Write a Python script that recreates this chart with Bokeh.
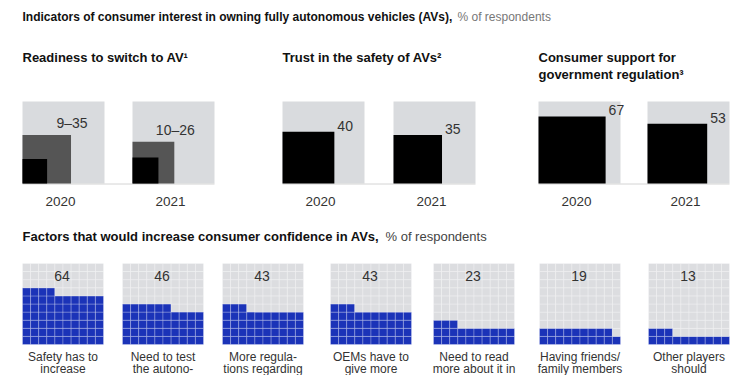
import math
from bokeh.plotting import figure
from bokeh.core.properties import value
from bokeh.embed import file_html
from bokeh.resources import INLINE

# ---------------- data ----------------
years = ["2020", "2021"]
readiness_low = [9, 10]
readiness_high = [35, 26]
trust_values = [40, 35]
regulation_values = [67, 53]

factor_labels = [
    ["Safety has to", "increase"],
    ["Need to test", "the autono-"],
    ["More regula-", "tions regarding"],
    ["OEMs have to", "give more"],
    ["Need to read", "more about it in"],
    ["Having friends/", "family members"],
    ["Other players", "should"],
]
factor_values = [64, 46, 43, 43, 23, 19, 13]

# ---------------- styles / layout ----------------
SANS = "Liberation Sans"
LIGHT = "#d9dbde"
DARK = "#555555"
BLACK = "#000000"
BLUE = "#1b33b8"
TXT = "#333333"

W, H = 750, 375
p = figure(width=W, height=H, x_range=(0, W), y_range=(H, 0),
           output_backend="svg", toolbar_location=None,
           min_border=0, min_border_left=0, min_border_right=0,
           min_border_top=0, min_border_bottom=0)
p.axis.visible = False
p.grid.visible = False
p.outline_line_color = None
p.background_fill_color = "white"

# titles
p.text(x=[22], y=[16], text=["Indicators of consumer interest in owning fully autonomous vehicles (AVs),"],
       text_font=value(SANS), text_font_size="12px", text_font_style="bold",
       text_color="#111111", text_baseline="middle")
p.text(x=[457], y=[16], text=["% of respondents"],
       text_font=value(SANS), text_font_size="12px", text_color="#777777",
       text_baseline="middle")

subtitles = [
    (22, ["Readiness to switch to AV\u00b9"]),
    (282, ["Trust in the safety of AVs\u00b2"]),
    (538, ["Consumer support for", "government regulation\u00b3"]),
]
for sx, lines in subtitles:
    for k, line in enumerate(lines):
        p.text(x=[sx], y=[57 + 17 * k], text=[line],
               text_font=value(SANS), text_font_size="13px", text_font_style="bold",
               text_color="#111111", text_baseline="middle")

# top square charts
SIDE = 82
BOTTOM = 183
group_lefts = [[22, 132], [282, 393], [538, 647]]


def side(v):
    return SIDE * math.sqrt(v / 100.0)


def label_year(lefts):
    p.text(x=[l + SIDE / 2 - 3 for l in lefts], y=[201] * 2, text=years,
           text_font=value(SANS), text_font_size="13.5px", text_color=TXT,
           text_align="center", text_baseline="middle")


for gi, lefts in enumerate(group_lefts):
    p.quad(left=lefts, right=[l + SIDE for l in lefts], top=[BOTTOM - SIDE] * 2,
           bottom=[BOTTOM] * 2, fill_color=LIGHT, line_color=None)
    p.segment(x0=[lefts[0]], y0=[BOTTOM + 0.5], x1=[lefts[1] + SIDE], y1=[BOTTOM + 0.5],
              line_color="#d4d4d4", line_width=1)
    label_year(lefts)

# readiness
lefts = group_lefts[0]
hs = [side(v) for v in readiness_high]
ls = [side(v) for v in readiness_low]
p.quad(left=lefts, right=[l + s for l, s in zip(lefts, hs)], top=[BOTTOM - s for s in hs],
       bottom=[BOTTOM] * 2, fill_color=DARK, line_color=None)
p.quad(left=lefts, right=[l + s for l, s in zip(lefts, ls)], top=[BOTTOM - s for s in ls],
       bottom=[BOTTOM] * 2, fill_color=BLACK, line_color=None)
p.text(x=[l + s + 1 for l, s in zip(lefts, hs)], y=[BOTTOM - s - 4 for s in hs],
       text=[f"{a}\u2013{b}" for a, b in zip(readiness_low, readiness_high)],
       text_font=value(SANS), text_font_size="14px", text_color=TXT,
       text_align="center", text_baseline="bottom")

# trust & regulation
for lefts, vals in [(group_lefts[1], trust_values), (group_lefts[2], regulation_values)]:
    ss = [side(v) for v in vals]
    p.quad(left=lefts, right=[l + s for l, s in zip(lefts, ss)], top=[BOTTOM - s for s in ss],
           bottom=[BOTTOM] * 2, fill_color=BLACK, line_color=None)
    p.text(x=[l + s + 3 for l, s in zip(lefts, ss)], y=[BOTTOM - s - 1 for s in ss],
           text=[str(v) for v in vals],
           text_font=value(SANS), text_font_size="14px", text_color=TXT,
           text_align="left", text_baseline="bottom")

# bottom section title
p.text(x=[22], y=[236], text=["Factors that would increase consumer confidence in AVs,"],
       text_font=value(SANS), text_font_size="13px", text_font_style="bold",
       text_color="#111111", text_baseline="middle")
p.text(x=[385], y=[236], text=["% of respondents"],
       text_font=value(SANS), text_font_size="13px", text_color="#444444",
       text_baseline="middle")

# waffles
WAFFLE_LEFTS = [22, 122, 222, 330, 433, 539, 648]
WTOP, WSIZE = 263, 81
CELL = WSIZE / 10.0
WBOTTOM = WTOP + WSIZE

cl, cr, ct, cb, cc = [], [], [], [], []
for wl, v in zip(WAFFLE_LEFTS, factor_values):
    for i in range(100):
        row, col = divmod(i, 10)
        cl.append(wl + col * CELL)
        cr.append(wl + (col + 1) * CELL)
        cb.append(WBOTTOM - row * CELL)
        ct.append(WBOTTOM - (row + 1) * CELL)
        cc.append(BLUE if i < v else "#dcdde0")
p.quad(left=cl, right=cr, top=ct, bottom=cb, fill_color=cc,
       line_color="white", line_alpha=0.25, line_width=1)

p.text(x=[wl + WSIZE / 2 - 1 for wl in WAFFLE_LEFTS], y=[275] * 7,
       text=[str(v) for v in factor_values],
       text_font=value(SANS), text_font_size="14px", text_color=TXT,
       text_align="center", text_baseline="middle")

for k in range(2):
    p.text(x=[wl + WSIZE / 2 for wl in WAFFLE_LEFTS], y=[356 + 12 * k] * 7,
           text=[lines[k] for lines in factor_labels],
           text_font=value(SANS), text_font_size="12px", text_color=TXT,
           text_align="center", text_baseline="middle")

open("out.html", "w").write(file_html(p, INLINE))
